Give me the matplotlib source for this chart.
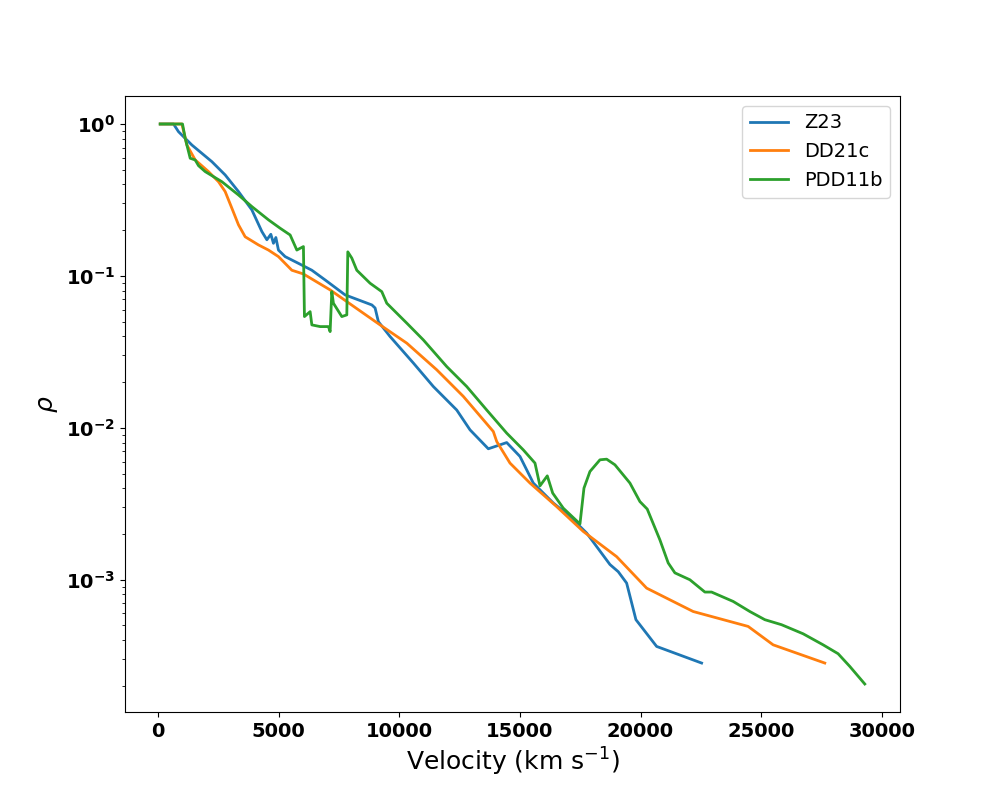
import matplotlib
matplotlib.use("Agg")
import matplotlib.pyplot as plt

z23_v = [83, 634, 841, 1397, 2225, 2776, 3328, 3883, 4297, 4505, 4670, 4778, 4878, 4985,
         5263, 5814, 6370, 6920, 7750, 8860, 8993, 9129, 9614, 10580, 11408, 12378, 12929,
         13688, 14450, 15001, 15553, 16382, 17073, 17765, 18731, 19075, 19423, 19809, 20667, 22532]
z23_rho = [1.0, 1.0, 0.890, 0.727, 0.565, 0.462, 0.359, 0.272, 0.196, 0.173, 0.188, 0.164, 0.179, 0.148,
           0.134, 0.121, 0.109, 0.0941, 0.0750, 0.0644, 0.0615, 0.0500, 0.0399, 0.0267, 0.0187, 0.0131, 0.00970,
           0.00728, 0.00800, 0.00648, 0.00433, 0.00320, 0.00261, 0.00203, 0.00126, 0.00113, 0.000951, 0.000546,
           0.000364, 0.000283]

dd21c_v = [83, 982, 1189, 1533, 2084, 2499, 2776, 3054, 3328, 3605, 4156, 4571, 4985, 5541, 6021,
           7128, 8508, 9200, 10306, 11549, 12652, 13895, 14036, 14587, 15416, 16522, 17625, 19008,
           20252, 22183, 24462, 25498, 27640]
dd21c_rho = [1.0, 1.0, 0.727, 0.580, 0.486, 0.417, 0.359, 0.279, 0.217, 0.181, 0.160, 0.148, 0.134, 0.109, 0.103,
             0.0809, 0.0568, 0.0476, 0.0361, 0.0241, 0.0161, 0.00946, 0.00813, 0.00586, 0.00433, 0.00303, 0.00208,
             0.00142, 0.000881, 0.000618, 0.000493, 0.000373, 0.000283]

pdd11b_v = [83, 1007, 1119, 1326, 1533, 1670, 1948, 2640, 3328, 3883, 4571, 5056, 5470, 5748, 6021,
            6063, 6299, 6370, 6713, 7057, 7128, 7198, 7265, 7613, 7820, 7861, 8027, 8234, 8785, 9270,
            9477, 10306, 10994, 11964, 12793, 13622, 14450, 15138, 15623, 15830, 16133, 16357, 16796,
            17488, 17654, 17902, 18317, 18594, 18938, 19560, 19974, 20277, 20803, 21147, 21425, 22046,
            22668, 22945, 23841, 24532, 25154, 25846, 26741, 27570, 28192, 28676, 29298]
pdd11b_rho = [1.0, 1.0, 0.805, 0.595, 0.580, 0.532, 0.486, 0.417, 0.341, 0.286, 0.234, 0.206, 0.186, 0.148, 0.156,
              0.0540, 0.0582, 0.0476, 0.0464, 0.0464, 0.0430, 0.0788, 0.0661, 0.0540, 0.0554, 0.144, 0.131, 0.109,
              0.0895, 0.0788, 0.0661, 0.0489, 0.0379, 0.0253, 0.0187, 0.0131, 0.00923, 0.00716, 0.00586, 0.00415,
              0.00483, 0.00372, 0.00296, 0.00233, 0.00401, 0.00516, 0.00616, 0.00622, 0.00571, 0.00433, 0.00327,
              0.00292, 0.00183, 0.00129, 0.00111, 0.00100, 0.000830, 0.000830, 0.000720, 0.000618, 0.000546,
              0.000506, 0.000441, 0.000373, 0.000326, 0.000269, 0.000206]

labels = ["Z23", "DD21c", "PDD11b"]
colors = ["#1f77b4", "#ff7f0e", "#2ca02c"]

fig, ax = plt.subplots(figsize=(10, 8), dpi=100)
ax.plot(z23_v, z23_rho, color=colors[0], lw=2, label=labels[0])
ax.plot(dd21c_v, dd21c_rho, color=colors[1], lw=2, label=labels[1])
ax.plot(pdd11b_v, pdd11b_rho, color=colors[2], lw=2, label=labels[2])
ax.set_yscale("log")
ax.set_xlabel(r"Velocity (km s$^{-1}$)", fontsize=18)
ax.set_ylabel(r"$\rho$", fontsize=18)
for lab in ax.get_xticklabels() + ax.get_yticklabels():
    lab.set_fontweight("bold")
    lab.set_fontsize(14)
ax.tick_params(axis="both", which="major", labelsize=14)
ax.legend(fontsize=14, loc="upper right")
fig.savefig("out.png", dpi=100)
